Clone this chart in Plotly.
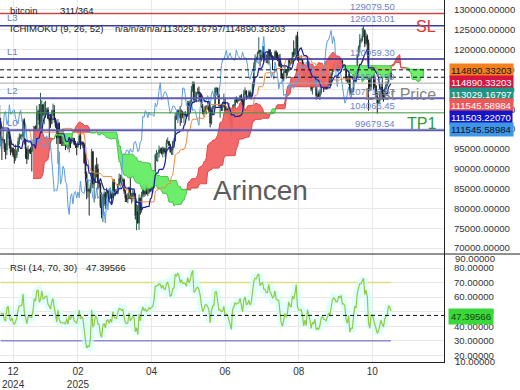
import numpy as np
import pandas as pd
import plotly.graph_objects as go

# ---------------- data (daily bitcoin, thousands USD) ----------------
# bars 2024-10-29 .. 2024-12-18 are warm-up bars (left of the visible window)
PRE_BARS = 51
close_k = [
    # 2024-10 (29..31)
    72.7,72.3,70.2,
    # 2024-11
    69.5,69.4,68.8,67.8,69.4,75.6,75.9,76.5,76.7,80.5,88.7,87.9,90.6,87.3,91.1,90.6,89.8,90.5,92.3,94.3,98.4,98.9,97.7,98.0,93.0,91.9,95.9,95.6,97.5,96.4,
    # 2024-12 (1..18)
    97.2,95.9,96.0,98.8,97.0,99.9,99.9,101.2,97.4,96.7,101.2,100.0,101.5,101.4,104.3,106.0,106.1,100.0,
    # 2024-12 (19..31)
    97.5,97.2,97.3,95.1,94.7,98.7,99.4,95.8,94.2,95.2,93.5,92.6,93.4,
    # 2025-01
    94.4,96.9,98.1,98.2,98.3,102.1,96.9,95.0,92.5,94.7,94.5,94.5,94.5,96.5,100.5,99.9,104.1,104.4,101.1,102.0,106.1,103.7,104.0,104.7,104.8,102.6,102.1,101.3,103.7,104.7,102.4,
    # 2025-02
    100.7,97.7,101.4,97.9,96.6,96.6,96.5,96.5,96.1,97.4,95.7,97.9,96.6,97.5,97.6,96.1,95.8,95.5,96.6,98.3,96.1,96.6,96.1,91.5,88.7,84.3,84.7,84.4,
    # 2025-03
    86.0,94.3,86.1,87.2,90.6,89.9,86.7,86.2,80.6,78.5,82.9,83.7,81.1,84.0,84.3,82.6,84.1,82.7,86.9,84.2,84.0,83.8,86.1,87.5,87.4,86.9,87.2,84.4,82.6,82.3,82.5,
    # 2025-04
    85.2,82.5,83.1,83.8,83.5,78.2,79.2,76.3,82.6,79.6,83.4,85.3,83.7,84.5,83.6,84.0,84.9,84.5,85.1,85.2,87.5,93.4,93.7,93.9,94.7,94.6,93.8,95.0,94.3,94.2,
    # 2025-05
    96.5,96.9,95.9,94.3,94.7,96.8,97.0,103.2,102.9,104.6,104.1,102.8,104.2,103.5,103.7,103.6,103.2,106.5,105.6,106.8,109.7,111.7,107.3,107.8,109.0,109.4,108.9,107.8,105.6,103.9,104.6,
    # 2025-06
    105.7,105.8,105.4,104.7,101.5,104.3,105.6,105.7,110.3,110.3,108.7,105.9,106.0,105.5,105.6,106.8,104.6,104.9,104.6,103.3,102.1,100.9,105.4,106.0,107.3,106.9,107.1,107.3,108.4,107.1,
    # 2025-07
    105.7,108.8,109.6,108.0,108.2,109.2,108.2,108.9,111.3,115.9,117.5,117.4,119.1,119.8,117.7,118.7,119.2,117.9,117.9,117.3,117.4,119.9,118.6,118.3,117.6,117.9,119.4,118.0,117.9,117.8,115.8,
    # 2025-08
    113.3,112.5,114.2,115.0,114.1,115.0,117.5,116.7,116.5,119.3,118.7,120.2,123.3,118.4,117.4,117.5,117.5,116.2,112.9,114.3,112.5,116.9,115.4,113.5,110.1,111.8,111.3,112.6,108.4,108.8,108.2,
    # 2025-09
    109.2,111.2,111.7,110.7,110.7,110.2,111.1,112.1,111.5,113.9,115.5,116.1,115.9,115.3,115.4,116.8,116.5,117.1,115.7,115.7,115.3,112.7,112.0,113.3,109.0,109.7,109.7,112.1,114.4,114.1,
    # 2025-10 (1..28)
    118.6,120.6,122.3,122.4,123.5,124.8,121.5,123.3,121.7,113.2,110.6,115.2,115.3,113.0,110.8,108.2,106.5,107.2,108.7,110.6,108.5,107.6,110.1,111.0,111.6,114.5,114.1,112.9,
]
high_k = [
    73.6,72.9,72.7,
    71.6,70.0,69.4,69.0,70.5,76.4,76.9,77.2,76.9,81.5,89.6,89.9,93.4,91.8,91.9,91.8,91.7,92.6,94.0,94.9,98.9,99.6,99.0,98.6,98.9,94.7,97.3,96.6,98.7,97.8,
    97.9,98.2,96.3,99.0,104.0,101.9,100.5,101.4,101.3,98.3,101.9,102.5,102.6,102.6,105.0,107.8,108.3,106.5,
    102.8,98.1,99.5,97.3,96.4,99.4,99.9,99.9,97.3,95.5,95.3,94.9,96.1,
    94.9,97.8,98.9,98.7,98.8,102.5,102.7,97.3,95.3,95.8,95.0,95.4,95.9,97.4,100.7,100.9,105.9,104.9,106.3,109.1,107.2,106.3,106.8,107.1,105.3,105.5,103.2,103.8,104.8,106.4,106.0,
    102.8,101.5,102.5,101.7,99.0,99.2,100.1,96.9,97.3,98.3,98.5,98.1,98.0,98.8,97.9,97.7,97.0,96.0,96.9,98.8,99.5,96.9,96.9,96.5,92.5,89.3,87.1,85.1,
    86.5,95.0,94.4,88.9,91.0,92.8,91.2,86.8,86.5,84.0,83.6,84.3,84.2,85.2,84.7,85.0,84.7,84.0,87.4,87.4,84.8,84.5,86.1,88.8,88.5,88.3,87.8,87.5,84.6,83.5,83.9,
    85.5,88.5,83.9,84.7,84.2,83.8,81.2,80.8,83.5,82.7,84.2,85.9,86.0,85.8,86.4,86.4,85.4,85.1,85.6,85.3,88.8,93.8,94.7,94.0,95.8,95.3,95.3,95.6,95.4,95.2,
    97.4,97.9,96.9,96.3,95.2,96.9,97.7,104.0,104.2,104.9,104.9,105.8,104.9,104.6,104.2,104.5,103.7,107.1,107.1,107.3,110.8,112.0,111.9,109.5,109.3,110.4,110.7,109.3,108.9,106.3,104.9,
    105.9,105.9,106.8,106.0,105.9,105.4,105.9,106.0,110.5,110.4,110.4,108.9,106.2,106.2,106.0,108.9,107.7,105.6,105.2,106.5,104.0,103.0,106.1,106.3,108.0,108.2,107.8,107.6,108.5,108.8,
    107.5,109.8,110.5,109.7,108.4,109.7,109.7,109.2,111.9,116.8,118.8,118.2,119.5,123.1,119.9,119.8,120.9,120.9,118.4,118.8,119.6,120.2,120.1,119.4,118.5,118.4,119.8,119.8,119.3,118.7,118.9,
    116.1,114.0,114.7,115.8,115.1,115.7,117.7,117.7,117.9,119.4,122.3,120.3,123.7,124.5,119.2,117.9,118.6,117.6,116.8,114.6,114.5,117.4,117.0,115.6,113.7,112.4,112.6,113.5,112.6,108.9,109.5,
    109.9,111.8,112.6,112.2,113.4,111.0,111.3,112.9,113.2,114.3,115.6,116.3,116.7,116.0,116.7,117.0,117.3,117.9,117.4,116.1,115.9,115.4,113.3,113.9,113.4,110.3,109.8,112.3,114.5,114.8,
    118.7,121.0,123.9,122.9,125.5,126.2,125.1,124.2,123.8,122.5,113.4,115.9,116.1,115.6,113.6,111.1,109.2,107.5,109.4,111.7,114.0,109.2,110.5,112.0,111.9,114.9,116.0,116.0,
]
low_k = [
    69.7,71.4,69.7,
    68.8,69.0,67.5,66.8,67.5,69.3,74.5,75.6,75.7,76.5,80.2,85.2,86.3,86.7,87.1,90.1,89.0,89.4,90.6,91.6,94.1,97.2,97.3,95.8,92.6,90.8,91.8,94.7,95.4,96.1,
    95.7,94.4,93.6,94.7,91.0,96.4,99.0,98.9,94.2,94.3,95.7,99.4,99.3,100.6,101.2,103.3,105.3,99.9,
    95.7,92.2,96.4,94.2,92.4,93.4,97.6,95.1,93.4,94.0,93.0,91.3,92.0,
    92.7,94.2,96.1,97.5,97.2,97.9,96.1,92.5,91.2,92.2,93.8,93.7,89.3,94.3,96.5,97.3,99.9,102.3,99.6,99.5,100.1,103.2,101.2,102.8,104.1,102.5,97.8,100.3,101.3,103.3,101.6,
    100.3,96.2,91.2,96.2,96.2,95.7,95.7,95.7,94.7,95.3,94.9,94.1,95.2,96.3,97.2,96.0,95.2,93.4,95.3,96.5,94.9,95.8,95.2,91.2,86.0,82.3,82.7,78.2,
    83.8,85.1,85.1,81.5,86.4,87.8,84.7,85.2,80.1,77.5,76.6,80.7,79.9,80.8,83.7,82.0,82.4,81.2,82.6,83.2,83.2,83.7,83.5,85.6,86.3,85.9,85.9,83.7,81.6,81.6,81.3,
    82.4,82.3,81.2,81.7,82.4,77.2,74.5,76.2,74.6,78.4,78.9,82.8,82.9,83.2,83.6,83.1,83.7,84.1,84.3,83.9,85.1,87.6,91.9,91.7,92.8,93.9,93.6,92.9,93.8,92.9,
    94.1,96.3,95.7,94.0,93.5,93.4,95.8,96.9,102.3,102.8,103.4,100.8,101.5,102.7,101.4,103.1,102.6,103.1,102.1,104.9,106.1,109.3,106.8,106.9,106.7,108.7,107.6,106.8,105.4,103.7,103.1,
    103.9,103.7,104.9,104.2,100.4,101.1,103.9,105.0,105.3,108.4,108.0,105.7,102.8,104.5,104.5,105.4,103.4,103.5,103.9,102.3,100.9,98.2,99.6,104.6,105.2,106.6,106.4,106.9,107.2,106.8,
    105.3,105.2,108.6,107.3,107.8,107.8,107.5,107.4,108.4,110.6,115.2,116.9,117.3,118.9,115.7,117.0,117.9,116.9,117.3,116.6,116.5,116.2,117.4,117.5,114.8,117.2,117.8,117.5,117.1,115.8,115.6,
    112.7,112.0,112.0,114.1,112.7,113.4,114.3,115.9,116.3,116.5,118.1,118.2,118.9,117.2,116.8,117.2,117.2,114.7,112.7,112.4,112.4,111.7,114.6,110.9,109.5,108.7,110.4,110.9,107.4,107.5,108.1,
    107.3,108.7,110.6,109.3,109.9,109.9,110.0,110.6,110.9,110.9,113.4,114.4,115.8,114.9,114.4,114.8,114.8,116.2,115.5,115.4,115.1,112.0,111.5,111.1,108.7,108.6,109.1,109.3,111.6,112.7,
    113.9,118.2,119.3,121.6,122.0,123.1,120.6,121.1,119.6,104.6,109.6,109.7,113.0,109.9,110.2,107.5,103.9,106.3,106.2,107.5,107.4,106.9,107.6,109.7,110.7,111.3,113.9,112.5,
]

# x-axis tick labels (bar index positions)
tick_bars = [10, 62, 121, 180, 239, 298]
tick_text = ["12<br>2024", "02<br>2025", "04", "06", "08", "10"]

# horizontal levels on the price panel
level_values = [129079.50, 126013.01, 117600.0, 111545.59, 107712.37, 104066.45, 99679.54]
level_texts = ["129079.50", "126013.01", "120059.30", "111545.59", "107712.37", "104066.45", "99679.54"]
level_colors = ["#cf4545", "#3b3ba6", "#2c2c94", "#a6a6a6", "#5c5cb6", "#3d983d", "#5c5cb6"]
level_widths = [1.5, 1.5, 1.5, 1, 2, 1, 2]
dashed_levels = [114890.33203, 113029.16797]
side_names = ["L3", "L1", "L2", "L0"]
side_levels = [126013.01, 117600.0, 107712.37, 99679.54]

price_tags = ["114890.33203", "114890.33203", "113029.16797", "111545.58984", "111503.22070", "111545.58984"]
price_tag_bg = ["#f5801f", "#d51540", "#1f9484", "#f05858", "#1414c8", "#3d96ea"]
price_tag_fg = ["#111111", "#ffffff", "#ffffff", "#ffffff", "#ffffff", "#111111"]

rsi_last_text = "47.39566"
rsi_last_value = 47.39566
rsi_upper, rsi_lower = 70, 30

# ---------------- derived series ----------------
close = np.array(close_k) * 1000.0
high = np.array(high_k) * 1000.0
low = np.array(low_k) * 1000.0
open_ = np.concatenate([[close[0]], close[:-1]])
n = len(close)
xb = np.arange(n) - PRE_BARS

hs, ls = pd.Series(high), pd.Series(low)
def midline(p):
    return ((hs.rolling(p).max() + ls.rolling(p).min()) / 2).to_numpy()
tenkan = midline(9)
kijun = midline(26)
spanA = (tenkan + kijun) / 2
spanB = midline(52)
xs = xb + 26

s = pd.Series(close)
d = s.diff()
up = d.clip(lower=0).ewm(alpha=1 / 14, adjust=False).mean()
dn = (-d.clip(upper=0)).ewm(alpha=1 / 14, adjust=False).mean()
rsi = (100 - 100 / (1 + up / dn)).to_numpy()

# ---------------- figure ----------------
W, H = 520, 390
FONT = "Liberation Sans, Arial, sans-serif"
px_x = lambda p: p / W
px_y = lambda p: 1 - p / H
plot_right = px_x(444)
main_bottom = px_y(258)
rsi_bottom = px_y(368)

fig = go.Figure()

def cloud_segments(x, a, b):
    ok = ~(np.isnan(a) | np.isnan(b))
    x, a, b = x[ok], a[ok], b[ok]
    segs = []
    sx, sa, sb = [x[0]], [a[0]], [b[0]]
    sign = a[0] >= b[0]
    for i in range(1, len(x)):
        si = a[i] >= b[i]
        if si != sign:
            d0, d1 = a[i - 1] - b[i - 1], a[i] - b[i]
            t = d0 / (d0 - d1)
            xc = x[i - 1] + t * (x[i] - x[i - 1])
            yc = a[i - 1] + t * (a[i] - a[i - 1])
            sx.append(xc); sa.append(yc); sb.append(yc)
            segs.append((sign, sx, sa, sb))
            sx, sa, sb = [xc], [yc], [yc]
            sign = si
        sx.append(x[i]); sa.append(a[i]); sb.append(b[i])
    segs.append((sign, sx, sa, sb))
    return segs

for sign, sx, sa, sb in cloud_segments(xs.astype(float), spanA, spanB):
    fill = "rgba(242,98,98,0.95)" if sign else "rgba(100,236,100,0.95)"
    edge = "#e64545" if sign else "#45c445"
    fig.add_trace(go.Scatter(x=list(sx) + list(sx)[::-1], y=list(sa) + list(sb)[::-1],
                             mode="lines", fill="toself", fillcolor=fill,
                             line=dict(color=edge, width=1), hoverinfo="skip",
                             showlegend=False, xaxis="x", yaxis="y"))

fig.add_trace(go.Scatter(x=xb - 26, y=close, mode="lines", line=dict(color="#5b9de2", width=1),
                         showlegend=False, xaxis="x", yaxis="y"))
fig.add_trace(go.Scatter(x=xb, y=kijun, mode="lines", line=dict(color="#f28a3a", width=1),
                         showlegend=False, xaxis="x", yaxis="y"))
fig.add_trace(go.Candlestick(x=xb, open=open_, high=high, low=low, close=close,
                             increasing=dict(line=dict(color="#2a5f52", width=1), fillcolor="#2a5f52"),
                             decreasing=dict(line=dict(color="#202020", width=1), fillcolor="#202020"),
                             whiskerwidth=0, showlegend=False, xaxis="x", yaxis="y"))
fig.add_trace(go.Scatter(x=xb, y=tenkan, mode="lines", line=dict(color="#1c1ca6", width=1.2),
                         showlegend=False, xaxis="x", yaxis="y"))

vis = xb >= 0
fig.add_trace(go.Scatter(x=xb[vis], y=np.full(vis.sum(), rsi_upper), mode="lines",
                         line=dict(color="#dede80", width=1.5), showlegend=False, xaxis="x2", yaxis="y2"))
fig.add_trace(go.Scatter(x=xb[vis], y=np.full(vis.sum(), rsi_lower), mode="lines",
                         line=dict(color="#8a8ad8", width=1.5), showlegend=False, xaxis="x2", yaxis="y2"))
fig.add_trace(go.Scatter(x=xb[vis], y=rsi[vis], mode="lines",
                         line=dict(color="rgba(210,255,252,0.7)", width=8), showlegend=False,
                         xaxis="x2", yaxis="y2"))
fig.add_trace(go.Scatter(x=xb[vis], y=rsi[vis], mode="lines",
                         line=dict(color="#92c940", width=1.2), showlegend=False,
                         xaxis="x2", yaxis="y2"))

shapes = []
for v, c, w in zip(level_values, level_colors, level_widths):
    shapes.append(dict(type="line", xref="x domain", yref="y", x0=0, x1=1, y0=v, y1=v,
                       line=dict(color=c, width=w)))
for v in dashed_levels:
    shapes.append(dict(type="line", xref="x domain", yref="y", x0=0, x1=1, y0=v, y1=v,
                       line=dict(color="#111111", width=1, dash="4px,3px")))
shapes.append(dict(type="line", xref="x2 domain", yref="y2", x0=0, x1=1, y0=rsi_last_value,
                   y1=rsi_last_value, line=dict(color="#111111", width=1, dash="4px,3px")))
shapes.append(dict(type="line", xref="paper", yref="paper", x0=0, x1=1, y0=main_bottom, y1=main_bottom,
                   line=dict(color="#222222", width=1)))

ann = []
def text(x, y, t, size, color, xanchor="left", xref="paper", yref="paper", yshift=0, **kw):
    ann.append(dict(x=x, y=y, xref=xref, yref=yref, text=t, showarrow=False, xanchor=xanchor,
                    yanchor="middle", yshift=yshift,
                    font=dict(family=FONT, size=size, color=color), **kw))

text(px_x(8), px_y(11), "bitcoin", 9.5, "#222222")
text(px_x(58), px_y(11), "311/364", 9.5, "#222222")
text(px_x(8), px_y(29), "ICHIMOKU (9, 26, 52)", 9.5, "#222222")
text(px_x(113), px_y(29), "n/a/n/a/n/a/113029.16797/114890.33203", 9.5, "#222222")

for v, t in zip(level_values, level_texts):
    text(px_x(397), v, t, 9.5, "#6c84c8", xanchor="right", yref="y", yshift=7)
for nm, v in zip(side_names, side_levels):
    text(px_x(5), v, nm, 9.5, "#5f7fcc", yref="y", yshift=8)

text(px_x(438), level_values[1], "SL", 16, "#dd3030", xanchor="right", yref="y", yshift=-1)
text(px_x(438), level_values[4], "Last Price", 16, "#858585", xanchor="right", yref="y", yshift=4)
text(px_x(438), level_values[6], "TP1", 16, "#2b9a3b", xanchor="right", yref="y", yshift=7)
text(px_x(260), px_y(193), "Arincen", 28, "#5c5c5c", xanchor="center")

for i, (t, bg, fg) in enumerate(zip(price_tags, price_tag_bg, price_tag_fg)):
    text(px_x(449), px_y(71.5 + 12 * i), t, 9.6, fg, bgcolor=bg, borderpad=1)

text(px_x(8), px_y(272), "RSI (14, 70, 30)", 9.5, "#222222")
text(px_x(84), px_y(272), rsi_last_text, 9.5, "#222222")
text(px_x(448), px_y(321), rsi_last_text, 9.6, "#114411", bgcolor="#3ad83a", borderpad=2)
text(px_x(453), px_y(263), "90.00000", 9.6, "#333333")
text(px_x(453), px_y(367), "10.00000", 9.6, "#333333")

grid = "#e8e8e8"
axis_common = dict(showgrid=True, gridcolor=grid, gridwidth=1, zeroline=False)
fig.update_layout(
    width=W, height=H, margin=dict(l=0, r=0, t=0, b=0),
    paper_bgcolor="white", plot_bgcolor="white", showlegend=False,
    font=dict(family=FONT, size=10, color="#333333"),
    xaxis=dict(domain=[0, plot_right], range=[-0.5, 355.5], anchor="y", tickvals=tick_bars,
               showticklabels=False, ticks="", rangeslider=dict(visible=False), **axis_common),
    xaxis2=dict(domain=[0, plot_right], range=[-0.5, 355.5], anchor="y2", matches="x",
                tickvals=tick_bars, ticktext=tick_text, ticks="", showline=True,
                linecolor="#222222", linewidth=1, tickfont=dict(size=10, color="#333333"),
                **axis_common),
    yaxis=dict(domain=[main_bottom, 1], range=[68512, 132480], side="right", anchor="x",
               tickvals=list(range(70000, 130001, 5000)), tickformat=".5f",
               ticks="outside", ticklen=7, tickcolor="rgba(0,0,0,0)", showline=True,
               linecolor="#222222", linewidth=1, tickfont=dict(size=9.6, color="#333333"),
               **axis_common),
    yaxis2=dict(domain=[rsi_bottom, main_bottom], range=[15.08, 89.66], side="right", anchor="x2",
                tickvals=[20, 30, 40, 50, 60, 70, 80], tickformat=".5f",
                ticks="outside", ticklen=7, tickcolor="rgba(0,0,0,0)", showline=True,
                linecolor="#222222", linewidth=1, tickfont=dict(size=9.6, color="#333333"),
                **axis_common),
    shapes=shapes, annotations=ann,
)

fig.write_html("out.html")
